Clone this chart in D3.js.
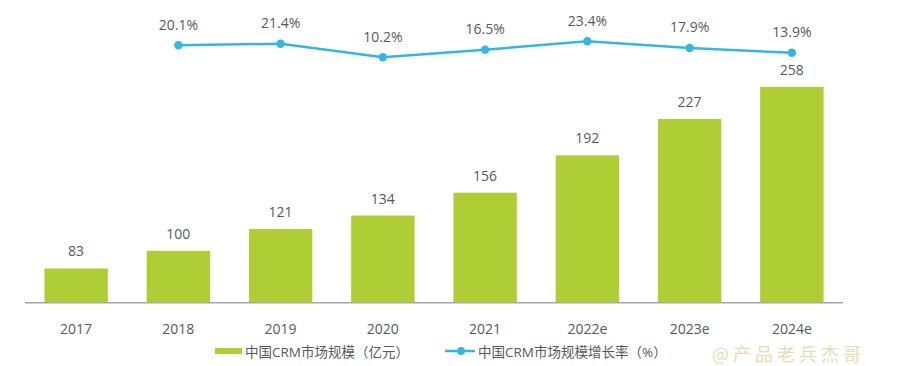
<!DOCTYPE html>
<html><head><meta charset="utf-8">
<script src="https://cdn.jsdelivr.net/npm/d3@7"></script>
<style>
html,body{margin:0;padding:0;background:#fff;}
svg{display:block;font-family:"Open Sans","Noto Sans CJK SC",sans-serif;}
</style></head>
<body>
<svg id="chart" width="898" height="366"></svg>
<script>
const categories = ["2017","2018","2019","2020","2021","2022e","2023e","2024e"];
const marketSize = [83,100,121,134,156,192,227,258];
const growthYears = ["2018","2019","2020","2021","2022e","2023e","2024e"];
const growthRate = [20.1,21.4,10.2,16.5,23.4,17.9,13.9];
const legendLabels = ["中国CRM市场规模（亿元）","中国CRM市场规模增长率（%）"];
const watermark = "@产品老兵杰哥";

const svg = d3.select("#chart");
const green = "#afcd34", blue = "#33b6e2", textCol = "#595959";

const x = d3.scaleBand().domain(categories).range([25,843]).paddingInner(0.38).paddingOuter(0.19);
const yBar = d3.scaleLinear().domain([50,300]).range([302.7, 302.7 - 250*1.0377]);
const yLine = d3.scaleLinear().domain([10.2,23.4]).range([57.3,41.3]);

// bars
svg.append("g").selectAll("rect").data(marketSize).join("rect")
  .attr("x",(d,i)=>x(categories[i]))
  .attr("y",d=>yBar(d))
  .attr("width",x.bandwidth())
  .attr("height",d=>yBar(50)-yBar(d))
  .attr("fill",green);

svg.append("g").selectAll("text").data(marketSize).join("text")
  .attr("x",(d,i)=>x(categories[i])+x.bandwidth()/2)
  .attr("y",d=>yBar(d)-12)
  .attr("text-anchor","middle")
  .attr("font-size",14).attr("fill",textCol)
  .text(d=>d);

// x axis
const ax = svg.append("g").attr("transform",`translate(0,${yBar(50)})`)
  .call(d3.axisBottom(x).tickSize(0).tickPadding(0));
ax.select(".domain").attr("stroke","#a6a6a6").attr("stroke-width",1.5).attr("d","M25,0H843");
ax.selectAll("text").attr("font-size",14).attr("fill",textCol)
  .attr("font-family","'Open Sans','Noto Sans CJK SC',sans-serif")
  .attr("dy",null).attr("y",31.5);

// line
const lx = (d,i)=>x(growthYears[i])+x.bandwidth()/2;
svg.append("path").datum(growthRate)
  .attr("d",d3.line().x(lx).y(d=>yLine(d)))
  .attr("fill","none").attr("stroke",blue).attr("stroke-width",2.5);
svg.append("g").selectAll("circle").data(growthRate).join("circle")
  .attr("cx",lx).attr("cy",d=>yLine(d)).attr("r",4.2).attr("fill",blue);
svg.append("g").selectAll("text").data(growthRate).join("text")
  .attr("x",lx).attr("y",d=>yLine(d)-15.5)
  .attr("text-anchor","middle").attr("font-size",14).attr("fill",textCol)
  .text(d=>d.toFixed(1)+"%");

// legend
const lg = svg.append("g");
lg.append("rect").attr("x",215).attr("y",348).attr("width",27).attr("height",6).attr("fill",green);
lg.append("text").attr("x",245).attr("y",357).attr("font-size",13.5).attr("fill",textCol).text(legendLabels[0]);
lg.append("line").attr("x1",445).attr("x2",475).attr("y1",351).attr("y2",351).attr("stroke",blue).attr("stroke-width",2.5);
lg.append("circle").attr("cx",461).attr("cy",351).attr("r",4).attr("fill",blue);
lg.append("text").attr("x",478).attr("y",357).attr("font-size",13.5).attr("fill",textCol).text(legendLabels[1]);

// watermark
svg.append("text").attr("x",712).attr("y",361).attr("font-size",18)
  .attr("letter-spacing",4)
  .attr("fill","#e6d6a8").attr("opacity",0.85)
  .attr("font-family","'Noto Sans CJK SC',sans-serif")
  .text(watermark);
</script>
</body></html>
